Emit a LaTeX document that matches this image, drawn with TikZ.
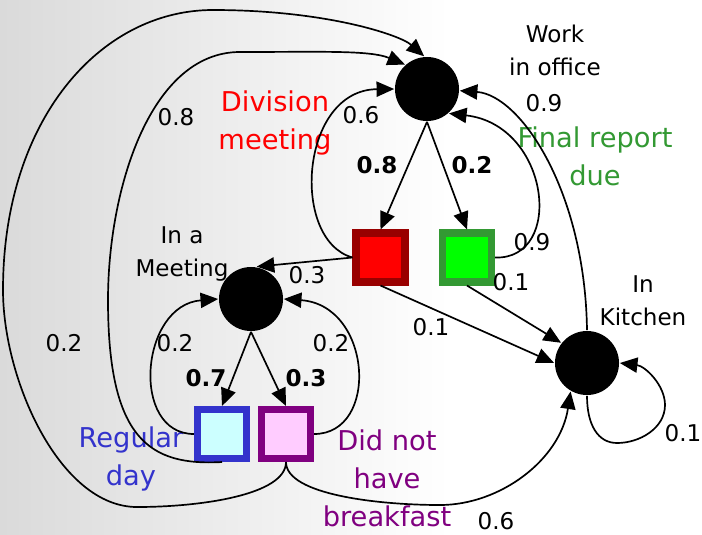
\documentclass[tikz,border=0pt]{standalone}
\usepackage{fontspec}
\setmainfont{DejaVu Sans}
\usepackage{tikz}
\usetikzlibrary{arrows.meta}
\definecolor{mred}{RGB}{255,0,0}
\definecolor{mdarkred}{RGB}{153,0,0}
\definecolor{mgreen}{RGB}{0,255,0}
\definecolor{mdarkgreen}{RGB}{51,153,51}
\definecolor{mblue}{RGB}{51,51,204}
\definecolor{mcyan}{RGB}{204,255,255}
\definecolor{mpurple}{RGB}{128,0,128}
\definecolor{mpink}{RGB}{255,204,255}
\definecolor{mbg}{RGB}{218,218,218}

\begin{document}
\begin{tikzpicture}[x=0.025cm,y=-0.025cm,>={Triangle[length=0.44cm,width=0.38cm]},line width=1.2pt,
  state/.style={circle,fill=black,minimum size=1.6cm,inner sep=0pt},
  box/.style={draw,line width=5pt,minimum size=1.225cm,inner sep=0pt},
  lab/.style={font=\fontsize{16.4}{23.5}\selectfont,align=center,inner sep=0pt},
  big/.style={font=\fontsize{19.4}{27}\selectfont,align=center,inner sep=0pt}]
  % background
  \useasboundingbox (0,0) rectangle (702,534);
  \shade[left color=mbg,right color=white,draw=none] (0,0) rectangle (450,534);
  \fill[white] (450,0) rectangle (702,534);
  % states
  \node[state] (work) at (427,89) {};
  \node[state] (meet) at (251,299) {};
  \node[state] (kitchen) at (587,363) {};
  \node[box,draw=mdarkred,fill=mred] (dm) at (380.5,257.5) {};
  \node[box,draw=mdarkgreen,fill=mgreen] (frd) at (467,257.5) {};
  \node[box,draw=mblue,fill=mcyan] (rd) at (222,434) {};
  \node[box,draw=mpurple,fill=mpink] (nb) at (286,434) {};
  % names
  \node[lab] (lwork) at (555,50) {Work\\in office};
  \node[lab] (lmeet) at (182,254) {In a\\Meeting};
  \node[lab] (lkitchen) at (643,301) {In\\Kitchen};
  \node[big,text=mred] (ldm) at (275,123) {Division\\meeting};
  \node[big,text=mdarkgreen] (lfrd) at (595,156) {Final report\\due};
  \node[big,text=mblue] (lrd) at (131,459) {Regular\\day};
  \node[big,text=mpurple] (lnb) at (387,478) {Did not\\have\\breakfast};
  % from work in office
  \draw[->] (work.south) -- (dm.north);
  \draw[->] (work.south) -- (frd.north);
  % back to work in office
  \draw[->] (dm.west) .. controls (290,240) and (300,90) .. (work.west);
  \draw[->] (frd.east) .. controls (565,260) and (550,125) .. (work.-48);
  \draw[->] (kitchen.north) .. controls (585,190) and (520,95) .. (work.-3);
  \draw[->] (rd.south) .. controls (150,466) and (108,440) .. (108,300)
    .. controls (108,190) and (150,52) .. (240,52) .. controls (320,52) and (370,50) .. (work.132);
  \draw[->] (nb.south) .. controls (286,495) and (200,507) .. (137,507)
    .. controls (60,507) and (3,380) .. (3,290) .. controls (3,120) and (100,10) .. (213,10)
    .. controls (326,10) and (400,35) .. (work.95);
  % in a meeting
  \draw[->] (dm.west) -- (meet.80);
  \draw[->] (meet.south) -- (rd.north);
  \draw[->] (meet.south) -- (nb.north);
  \draw[->] (rd.west) .. controls (130,434) and (140,305) .. (meet.west);
  \draw[->] (nb.east) .. controls (380,434) and (372,305) .. (meet.east);
  % in kitchen
  \draw[->] (dm.south) -- (kitchen.west);
  \draw[->] (frd.south) -- (kitchen.142);
  \draw[->] (nb.south) .. controls (286,495) and (380,505) .. (440,505)
    .. controls (500,505) and (560,460) .. (kitchen.-120);
  \draw[->] (kitchen.south) .. controls (587,425) and (598,443) .. (617,443)
    .. controls (640,443) and (665,428) .. (665,405) .. controls (665,385) and (645,366) .. (kitchen.east);
  % probabilities
  \node[lab] (p1) at (176,117) {0.8};
  \node[lab] (p2) at (361,115) {0.6};
  \node[lab] (p3) at (544,103) {0.9};
  \node[lab] (p4) at (377,165) {\textbf{0.8}};
  \node[lab] (p5) at (472,165) {\textbf{0.2}};
  \node[lab] (p6) at (532,242) {0.9};
  \node[lab] (p7) at (511,282) {0.1};
  \node[lab] (p8) at (307,275) {0.3};
  \node[lab] (p9) at (431,327) {0.1};
  \node[lab] (p10) at (64,343) {0.2};
  \node[lab] (p11) at (175,343) {0.2};
  \node[lab] (p12) at (331,343) {0.2};
  \node[lab] (p13) at (206,378) {\textbf{0.7}};
  \node[lab] (p14) at (306,378) {\textbf{0.3}};
  \node[lab] (p15) at (496,521) {0.6};
  \node[lab] (p16) at (683,433) {0.1};
\end{tikzpicture}
\end{document}
